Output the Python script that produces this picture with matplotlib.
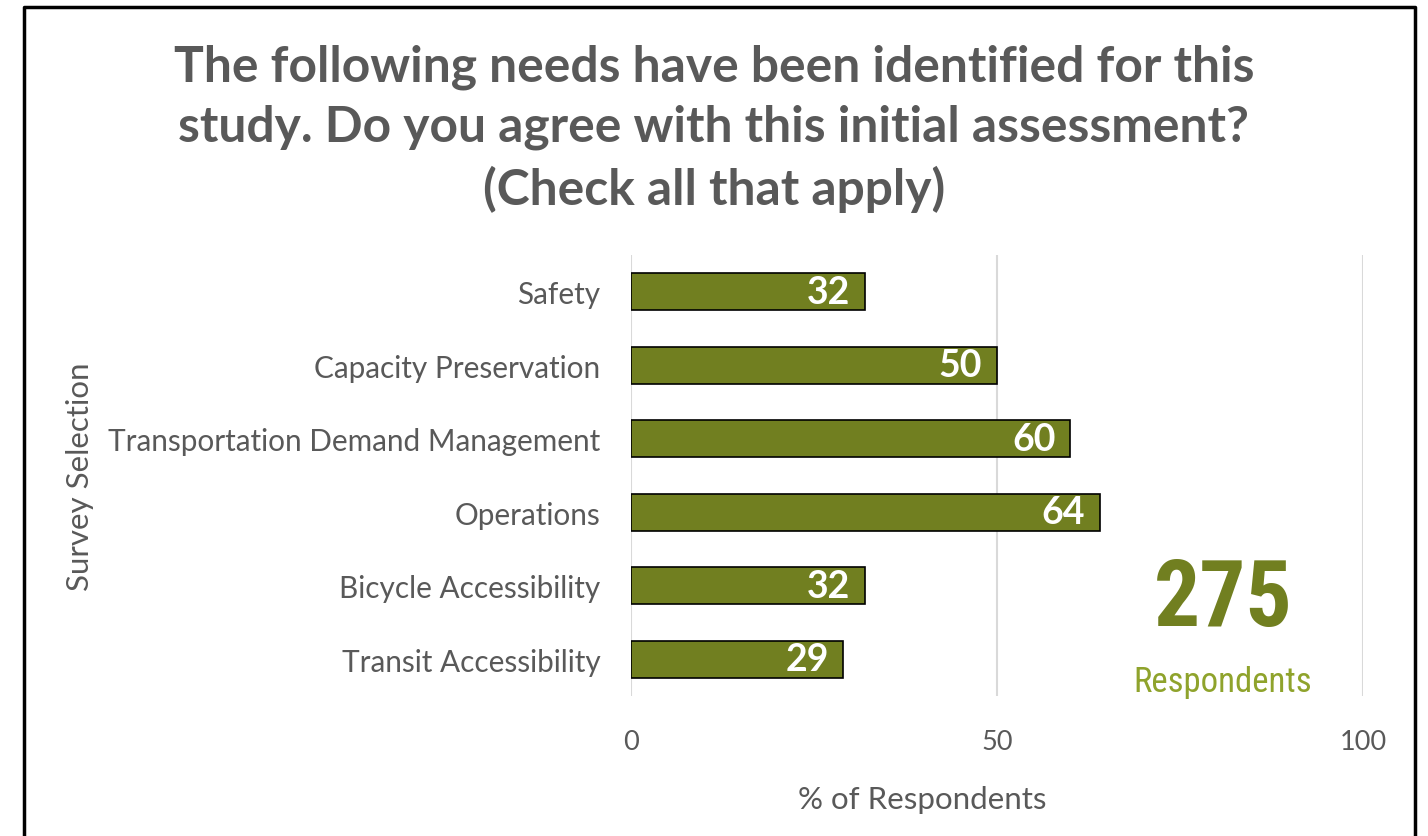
import matplotlib.pyplot as plt

# data
categories = ["Safety", "Capacity Preservation", "Transportation Demand Management",
              "Operations", "Bicycle Accessibility", "Transit Accessibility"]
percent = [32, 50, 60, 64, 32, 29]
x_ticks = [0, 50, 100]
respondents = 275

title = ("The following needs have been identified for this\n"
         "study. Do you agree with this initial assessment?\n"
         "(Check all that apply)")

bar_color = "#717F20"
text_gray = "#595959"
narrow = ["Roboto Condensed", "Liberation Sans Narrow", "Roboto", "DejaVu Sans"]

plt.rcParams['font.family'] = ['Lato', 'DejaVu Sans']

fig = plt.figure(figsize=(14.28, 8.37), dpi=100)
ax = fig.add_axes([0.4419, 0.1673, 0.5126, 0.5268])

y = list(range(len(categories)))[::-1]
ax.barh(y, percent, height=0.5, color=bar_color, edgecolor="black", linewidth=1.2, zorder=3)
for yi, v in zip(y, percent):
    ax.text(v - 2.0, yi, str(v), ha="right", va="center", color="white",
            fontsize=27, fontweight="bold", zorder=4)

ax.set_xlim(0, 100)
ax.set_ylim(-0.5, len(categories) - 0.5)
ax.set_yticks(y)
ax.set_yticklabels(categories, fontsize=21.4, color=text_gray)
ax.set_xticks(x_ticks)
ax.set_xticklabels([str(t) for t in x_ticks], fontsize=19.5, color=text_gray)
ax.tick_params(axis="both", length=0)
ax.tick_params(axis="y", pad=22)
ax.tick_params(axis="x", pad=24)
ax.grid(axis="x", color="#D9D9D9", linewidth=1.5, zorder=0)
for s in ax.spines.values():
    s.set_visible(False)

fig.text(0.056, 0.43, "Survey Selection", rotation=90, ha="center", va="center",
         fontsize=22.5, color=text_gray)
fig.text(0.646, 0.044, "% of Respondents", ha="center", va="center",
         fontsize=22.5, color=text_gray)
fig.text(0.5, 0.846, title, ha="center", va="center", fontsize=35.8,
         fontweight="bold", color=text_gray, linespacing=1.40)

fig.text(0.8565, 0.283, str(respondents), ha="center", va="center", fontsize=66,
         fontweight="bold", color=bar_color, family=narrow)
fig.text(0.8565, 0.185, "Respondents", ha="center", va="center", fontsize=25,
         color="#8FA32C", family=narrow)

# chart border (left, top, right)
fig.add_artist(plt.Line2D([0.0165, 0.0165, 0.991, 0.991], [0.0, 0.991, 0.991, 0.0],
                          transform=fig.transFigure, color="black", linewidth=2.5))

fig.savefig("out.png", dpi=100)
